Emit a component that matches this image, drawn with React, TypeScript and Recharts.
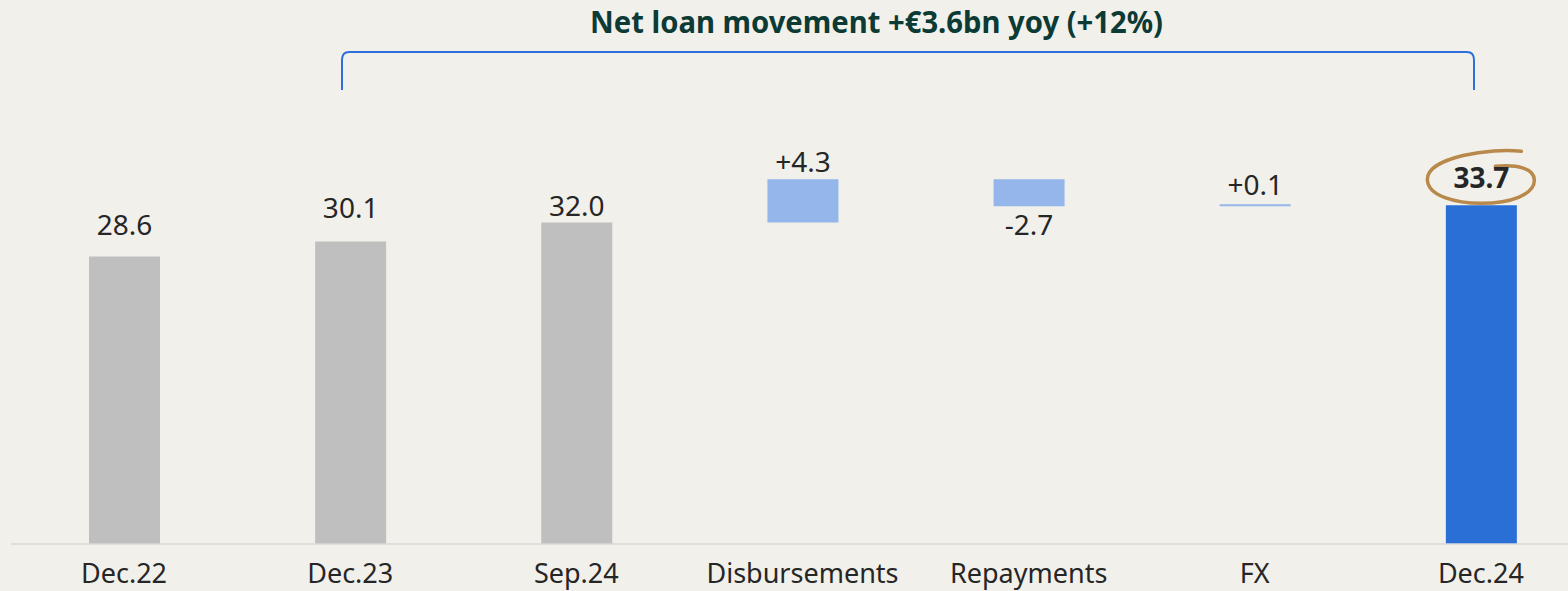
import { BarChart, Bar, XAxis, YAxis, Cell, LabelList } from "recharts"

const categories = ["Dec.22", "Dec.23", "Sep.24", "Disbursements", "Repayments", "FX", "Dec.24"]
const baseValues = [0, 0, 0, 32.0, 33.6, 33.6, 0]
const barValues = [28.6, 30.1, 32.0, 4.3, 2.7, 0.1, 33.7]
const valueLabels = ["28.6", "30.1", "32.0", "+4.3", "-2.7", "+0.1", "33.7"]

const barColors = ["#bfbfbf", "#bfbfbf", "#bfbfbf", "#94b6ea", "#94b6ea", "#94b6ea", "#2a6fd6"]
// baseline distance from bar top (negative = below bar bottom)
const labelGap = [22, 23, 6, 7, -29, 9, 17]

const data = categories.map((name, i) => ({
  name,
  base: baseValues[i],
  value: barValues[i],
}))

const FONT = "'Noto Sans', sans-serif"

function ValueLabel(props: any) {
  const { x, y, width, height, index } = props
  const cx = x + width / 2
  const gap = labelGap[index]
  const ty = gap >= 0 ? y - gap : y + height - gap
  const last = index === categories.length - 1
  if (last) {
    const ey = ty - 10
    return (
      <g>
        <path
          d={`M ${cx + 40} ${ey - 27} C ${cx + 10} ${ey - 31} ${cx - 54} ${ey - 21} ${cx - 54} ${ey + 1}
              C ${cx - 54} ${ey + 18} ${cx - 25} ${ey + 25} ${cx} ${ey + 25}
              C ${cx + 30} ${ey + 25} ${cx + 53} ${ey + 16} ${cx + 53} ${ey + 2}
              C ${cx + 53} ${ey - 10} ${cx + 36} ${ey - 14} ${cx + 14} ${ey - 12}`}
          fill="none"
          stroke="#b8894a"
          strokeWidth={3.5}
          strokeLinecap="round"
        />
        <text x={cx} y={ty} textAnchor="middle" fontFamily={FONT} fontSize={28} fontWeight={700} fill="#262626">
          {valueLabels[index]}
        </text>
      </g>
    )
  }
  return (
    <text x={cx} y={ty} textAnchor="middle" fontFamily={FONT} fontSize={28} fill="#262626">
      {valueLabels[index]}
    </text>
  )
}

export default function App() {
  return (
    <div
      style={{
        position: "absolute",
        top: 0,
        left: 0,
        width: 1568,
        height: 591,
        overflow: "hidden",
        background: "#f1f0eb",
      }}
    >
      <BarChart width={1600} height={591} data={data} margin={{ top: 142, right: 6, bottom: 0, left: 11 }}>
        <XAxis
          dataKey="name"
          height={47}
          tickLine={false}
          axisLine={{ stroke: "#d9d9d9", strokeWidth: 1.5 }}
          tickMargin={14}
          tick={{ fontFamily: FONT, fontSize: 27, fill: "#262626" }}
          interval={0}
        />
        <YAxis hide domain={[0, 40]} />
        <Bar dataKey="base" stackId="w" fill="transparent" barSize={71} isAnimationActive={false} />
        <Bar dataKey="value" stackId="w" barSize={71} minPointSize={2} isAnimationActive={false}>
          {data.map((d, i) => (
            <Cell key={d.name} fill={barColors[i]} />
          ))}
          <LabelList dataKey="value" content={<ValueLabel />} />
        </Bar>
      </BarChart>
      <svg width={1568} height={110} style={{ position: "absolute", top: 0, left: 0 }}>
        <text
          x={590}
          y={33}
          fontFamily={FONT}
          fontSize={30}
          fontWeight={700}
          fill="#0c3a34"
          textLength={573}
          lengthAdjust="spacingAndGlyphs"
        >
          Net loan movement +€3.6bn yoy (+12%)
        </text>
        <path
          d="M 342 90 L 342 60 Q 342 52 349 52 L 1467 52 Q 1474 52 1474 60 L 1474 90"
          fill="none"
          stroke="#2f6fdb"
          strokeWidth={2}
        />
      </svg>
    </div>
  )
}
